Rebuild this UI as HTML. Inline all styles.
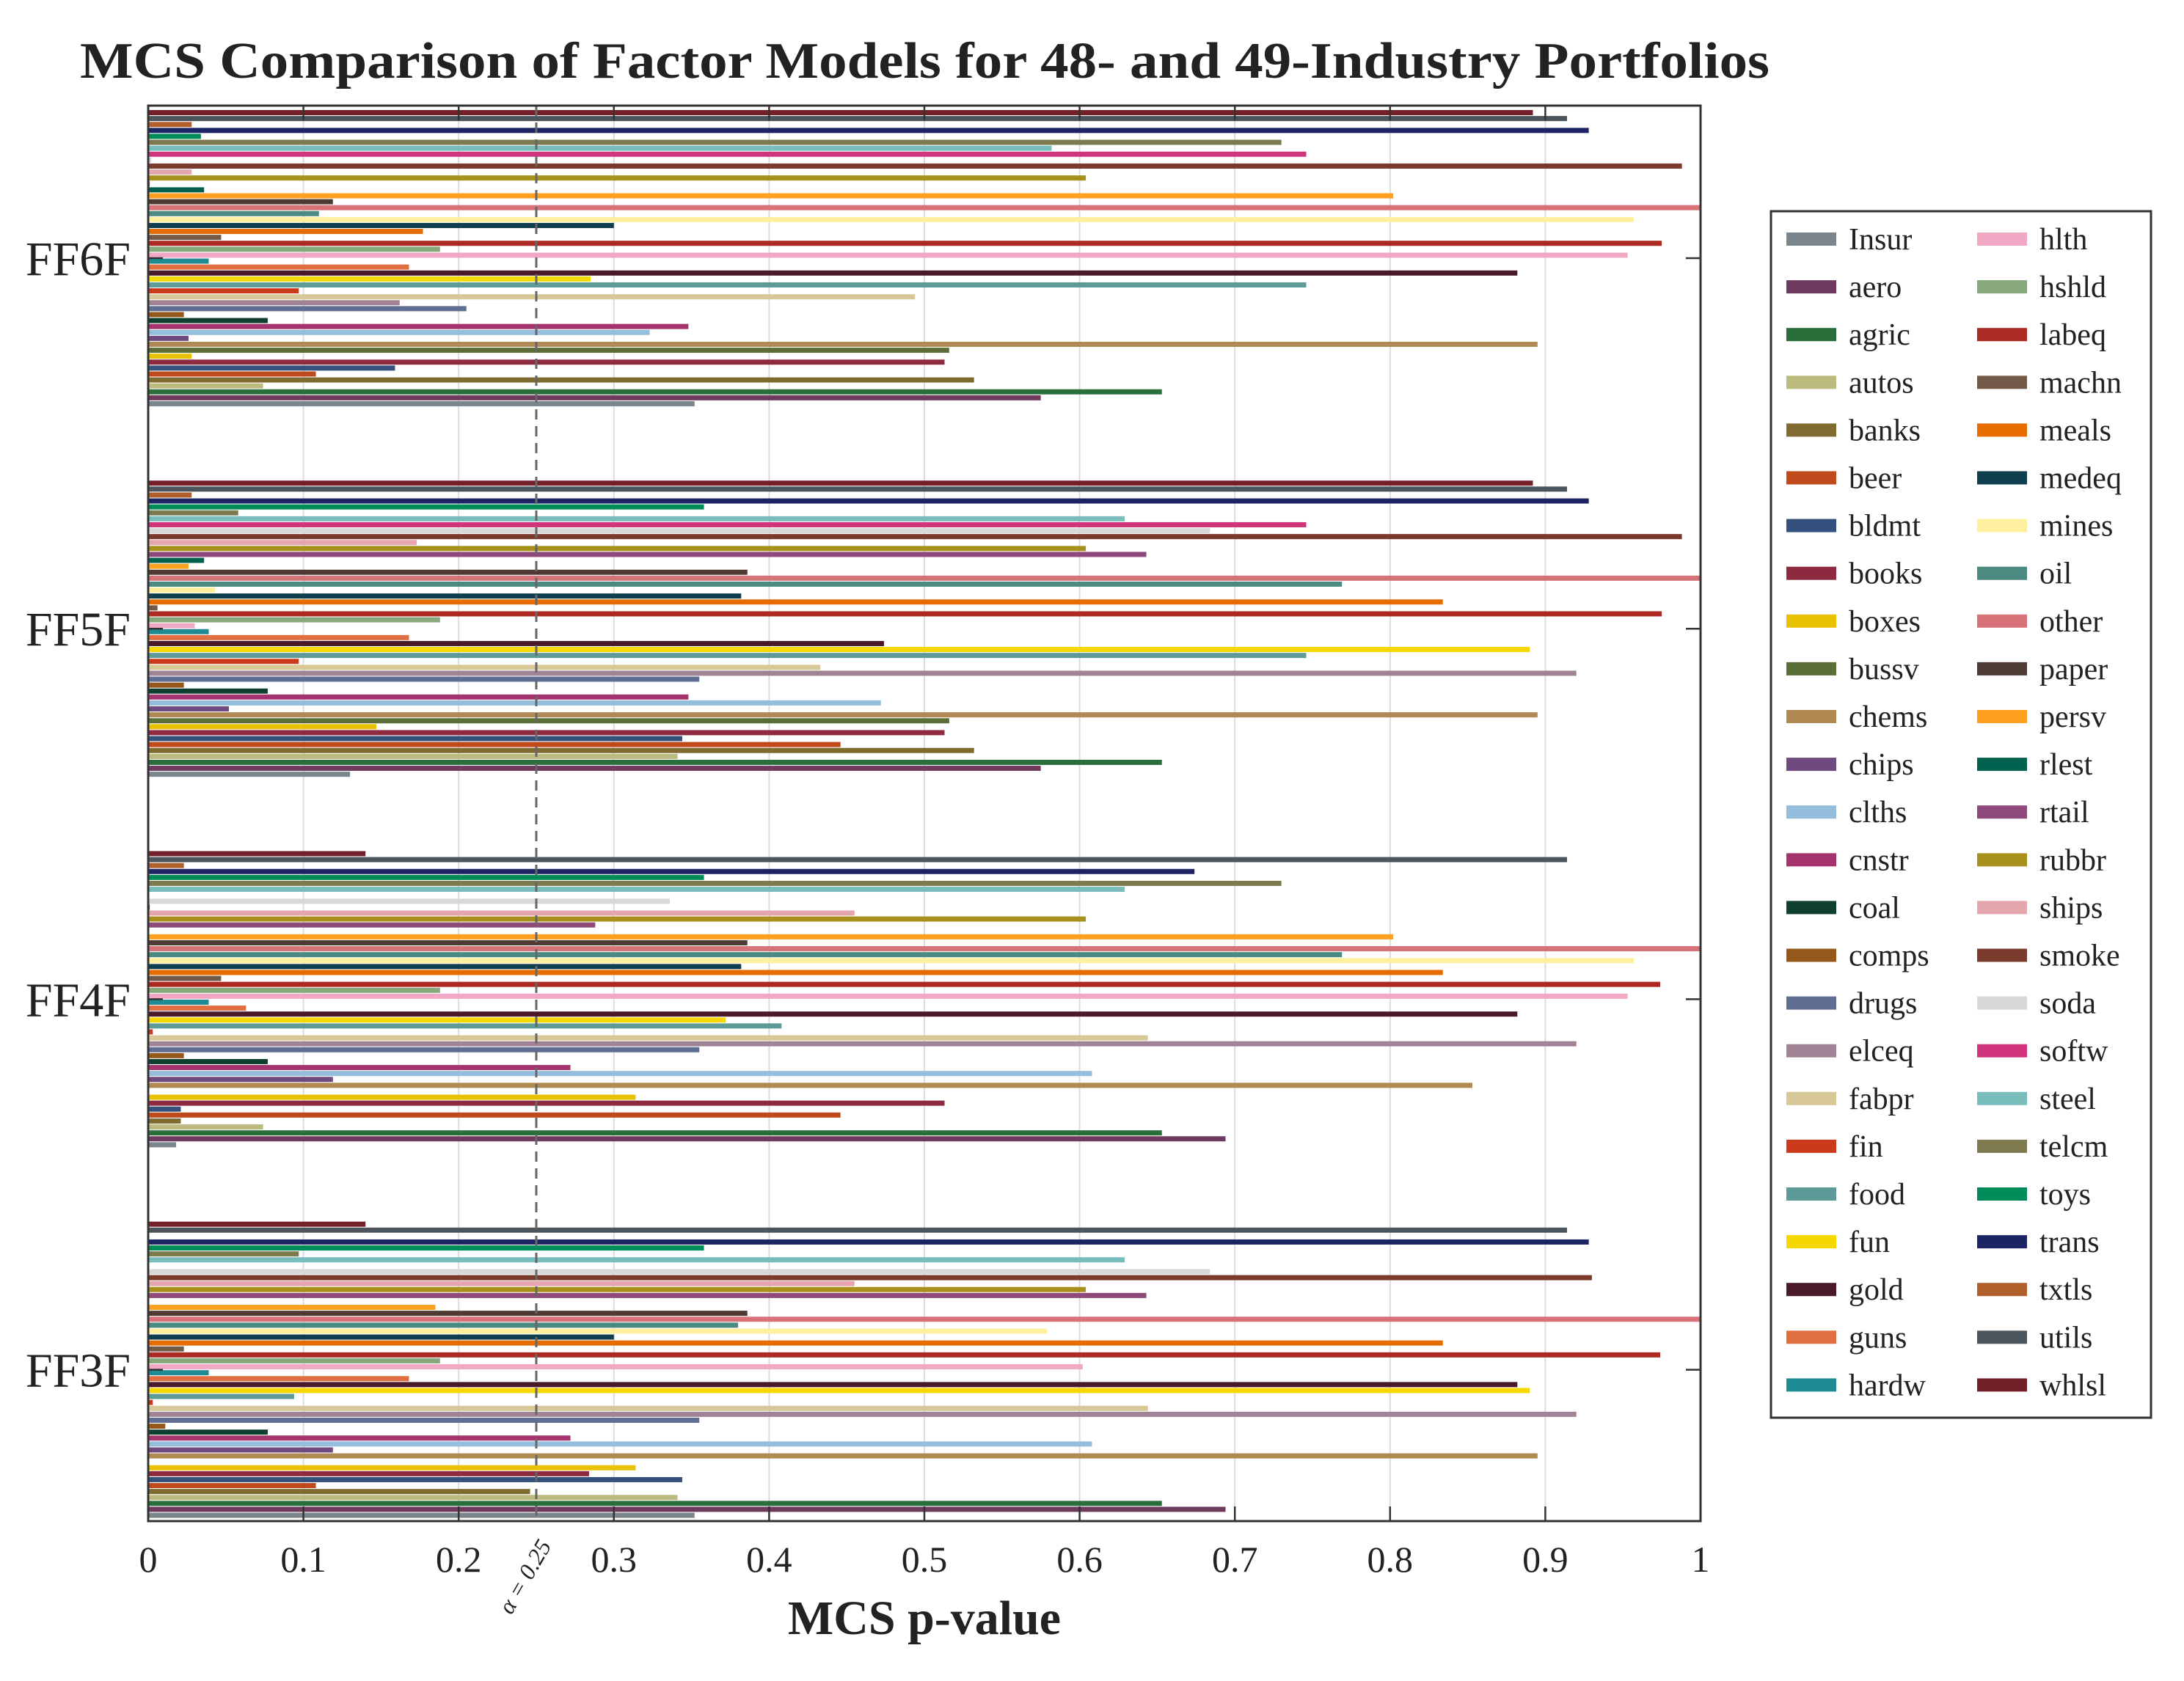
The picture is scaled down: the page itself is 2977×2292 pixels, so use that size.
<!DOCTYPE html>
<html><head><meta charset="utf-8">
<style>
html,body{margin:0;padding:0;background:#fff;}
svg{display:block;}
text{font-family:"Liberation Serif",serif;fill:#222;}
</style></head>
<body>
<svg id="chart" width="2977" height="2292" viewBox="0 0 2977 2292" xmlns="http://www.w3.org/2000/svg">
<text x="109" y="106" font-size="70" font-weight="bold" textLength="2303" lengthAdjust="spacingAndGlyphs">MCS Comparison of Factor Models for 48- and 49-Industry Portfolios</text>
<g id="grid"></g>
<g id="bars"></g>
<g id="axes"></g>
<text x="1260" y="2228" font-size="66" font-weight="bold" text-anchor="middle">MCS p-value</text>
<text x="716" y="2160" font-size="32" font-style="italic" fill="#555" text-anchor="middle" transform="rotate(-60 716 2150)">α = 0.25</text>
<g id="legend"></g>
</svg>
<script>
const models = ["FF6F","FF5F","FF4F","FF3F"];
const industries = ["Insur","aero","agric","autos","banks","beer","bldmt","books","boxes","bussv","chems","chips","clths","cnstr","coal","comps","drugs","elceq","fabpr","fin","food","fun","gold","guns","hardw","hlth","hshld","labeq","machn","meals","medeq","mines","oil","other","paper","persv","rlest","rtail","rubbr","ships","smoke","soda","softw","steel","telcm","toys","trans","txtls","utils","whlsl"];
const colors = ["#7b868c","#6e3a5e","#2a6e3c","#bcbb7f","#7f6a30","#c04a1c","#34507c","#8e2a40","#e8c100","#5b6e38","#b08a52","#6f4a80","#94bedc","#a5336e","#0f3f2e","#93581a","#5f6e92","#a08496","#d8c898","#cc3a1e","#5e9a98","#f4d800","#4b1a2a","#e06e40","#1e8a92","#f0a8c4","#86a87a","#ac2a22","#735a48","#e66c00","#0f3e4e","#fff0a0","#4a8a80","#d67278","#4e3a32","#ffa020","#00614e","#8e4a7a","#a8901c","#e4a6ac","#7a3a2c","#d8d8d8","#d0347a","#78bcbc","#7e7a50","#008c58","#1c2464","#b0602c","#4c555c","#74202a"];
const ff6f = [0.352,0.575,0.653,0.074,0.532,0.108,0.159,0.513,0.028,0.516,0.895,0.026,0.323,0.348,0.077,0.023,0.205,0.162,0.494,0.097,0.746,0.285,0.882,0.168,0.039,0.953,0.188,0.975,0.047,0.177,0.300,0.957,0.110,1.0,0.119,0.802,0.036,0.001,0.604,0.028,0.988,0.002,0.746,0.582,0.730,0.034,0.928,0.028,0.914,0.892];
const ff5f = [0.130,0.575,0.653,0.341,0.532,0.446,0.344,0.513,0.147,0.516,0.895,0.052,0.472,0.348,0.077,0.023,0.355,0.920,0.433,0.097,0.746,0.890,0.474,0.168,0.039,0.030,0.188,0.975,0.006,0.834,0.382,0.043,0.769,1.0,0.386,0.026,0.036,0.643,0.604,0.173,0.988,0.684,0.746,0.629,0.058,0.358,0.928,0.028,0.914,0.892];
const ff4f = [0.018,0.694,0.653,0.074,0.021,0.446,0.021,0.513,0.314,0.0,0.853,0.119,0.608,0.272,0.077,0.023,0.355,0.920,0.644,0.003,0.408,0.372,0.882,0.063,0.039,0.953,0.188,0.974,0.047,0.834,0.382,0.957,0.769,1.0,0.386,0.802,0.0,0.288,0.604,0.455,0.001,0.336,0.0,0.629,0.730,0.358,0.674,0.023,0.914,0.140];
const ff3f = [0.352,0.694,0.653,0.341,0.246,0.108,0.344,0.284,0.314,0.0,0.895,0.119,0.608,0.272,0.077,0.011,0.355,0.920,0.644,0.003,0.094,0.890,0.882,0.168,0.039,0.602,0.188,0.974,0.023,0.834,0.300,0.579,0.380,1.0,0.386,0.185,0.0,0.643,0.604,0.455,0.930,0.684,0.0,0.629,0.097,0.358,0.928,0.0,0.914,0.140];
const xTicks = [0,0.1,0.2,0.3,0.4,0.5,0.6,0.7,0.8,0.9,1];
const xTickLabels = ["0","0.1","0.2","0.3","0.4","0.5","0.6","0.7","0.8","0.9","1"];
const alpha = 0.25;

const NS="http://www.w3.org/2000/svg";
const L=202,R=2318,T=144,B=2074;
const xs=v=>L+v*(R-L);
const groupCenter=g=>352+g*505.2;
const slot=8.1, barH=7;
const ys=(g,i)=>groupCenter(g)+(24.5-i)*slot;
function mk(tag,attrs,parent){const e=document.createElementNS(NS,tag);for(const k in attrs)e.setAttribute(k,attrs[k]);parent.appendChild(e);return e;}
const grid=document.getElementById('grid'),bars=document.getElementById('bars'),axes=document.getElementById('axes'),legend=document.getElementById('legend');
xTicks.forEach((t,k)=>{
  const gl=mk('line',{x1:xs(t),x2:xs(t),y1:T,y2:B,stroke:'#dcdcdc','stroke-width':2},grid);
  
  
});
const series=[ff6f,ff5f,ff4f,ff3f];
series.forEach((arr,g)=>{
  arr.forEach((v,i)=>{
    const r=mk('rect',{x:L,y:ys(g,i)-barH/2,width:Math.max(0,xs(v)-L),height:barH,fill:colors[i]},bars);
    
    
  });
});
const al=mk('line',{x1:xs(alpha),x2:xs(alpha),y1:T,y2:B,stroke:'#666','stroke-width':3,'stroke-dasharray':'14,9'},axes);


const box=mk('rect',{x:L,y:T,width:R-L,height:B-T,fill:'none',stroke:'#333','stroke-width':3},axes);


xTicks.forEach((t,k)=>{
  mk('line',{x1:xs(t),x2:xs(t),y1:B,y2:B-20,stroke:'#333','stroke-width':2.5},axes);
  mk('line',{x1:xs(t),x2:xs(t),y1:T,y2:T+20,stroke:'#333','stroke-width':2.5},axes);
  const tl=mk('text',{x:xs(t),y:2143,'font-size':50,'text-anchor':'middle'},axes);
  tl.textContent=xTickLabels[k];
  
  
});
models.forEach((m,g)=>{
  const c=groupCenter(g);
  mk('line',{x1:L,x2:L+20,y1:c,y2:c,stroke:'#333','stroke-width':2.5},axes);
  mk('line',{x1:R,x2:R-20,y1:c,y2:c,stroke:'#333','stroke-width':2.5},axes);
  const yl=mk('text',{x:178,y:c+23,'font-size':66,'text-anchor':'end'},axes);
  yl.textContent=m;
  
  
});
const lb=mk('rect',{x:2414,y:288,width:518,height:1645,fill:'#fff',stroke:'#333','stroke-width':3},legend);


industries.forEach((n,i)=>{
  const col=Math.floor(i/25),row=i%25;
  const sx=col?2695:2435, tx=col?2780:2520, cy=326+row*65.1;
  const sw=mk('rect',{x:sx,y:cy-9,width:68,height:18,fill:colors[i]},legend);
  
  
  const t=mk('text',{x:tx,y:cy+14,'font-size':42},legend);
  t.textContent=n;
  
  
});
</script>
</body></html>
